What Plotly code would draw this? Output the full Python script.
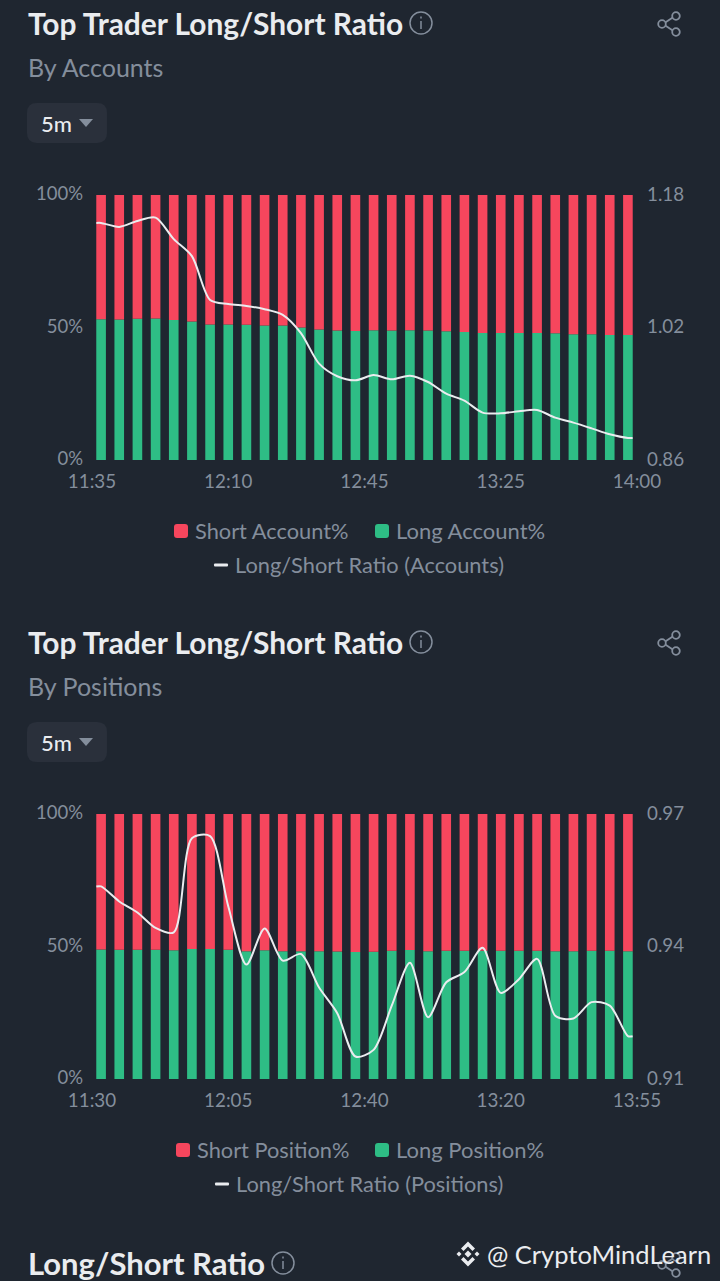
import plotly.graph_objects as go

# 11:35 ~ 14:00, 5m
times_acc = ["11:35","11:40","11:45","11:50","11:55","12:00","12:05","12:10","12:15","12:20",
             "12:25","12:30","12:35","12:40","12:45","12:50","12:55","13:00","13:05","13:10",
             "13:15","13:20","13:25","13:30","13:35","13:40","13:45","13:50","13:55","14:00"]
long_acc = [53.1,53.0,53.3,53.4,52.8,52.3,51.1,51.1,51.0,50.8,
            50.8,50.0,49.2,48.9,48.7,49.0,48.9,49.0,48.9,48.6,
            48.3,47.9,47.9,47.9,47.9,47.8,47.5,47.5,47.2,47.2]
short_acc = [46.9,47.0,46.7,46.6,47.2,47.7,48.9,48.9,49.0,49.2,
             49.2,50.0,50.8,51.1,51.3,51.0,51.1,51.0,51.1,51.4,
             51.7,52.1,52.1,52.1,52.1,52.2,52.5,52.5,52.8,52.8]
ratio_acc = [1.1463,1.1415,1.1487,1.1527,1.1267,1.1062,1.0533,1.0485,1.0461,1.0421,
             1.0352,1.0132,0.9763,0.9611,0.9562,0.9625,0.9574,0.9618,0.9542,0.9401,
             0.9316,0.9172,0.9164,0.9188,0.9204,0.9111,0.9051,0.8982,0.8910,0.8866]
ticks_acc = ["11:35","12:10","12:45","13:25","14:00"]

# 11:30 ~ 13:55, 5m
times_pos = ["11:30","11:35","11:40","11:45","11:50","11:55","12:00","12:05","12:10","12:15",
             "12:20","12:25","12:30","12:35","12:40","12:45","12:50","12:55","13:00","13:05",
             "13:10","13:15","13:20","13:25","13:30","13:35","13:40","13:45","13:50","13:55"]
long_pos = [48.9,48.75,48.75,48.75,48.6,49.1,49.1,48.75,48.2,48.6,
            48.2,48.2,48.2,48.1,47.9,48.0,48.4,48.7,48.2,48.4,
            48.4,48.4,48.4,48.4,48.4,48.2,48.2,48.4,48.4,48.2]
short_pos = [51.1,51.25,51.25,51.25,51.4,50.9,50.9,51.25,51.8,51.4,
             51.8,51.8,51.8,51.9,52.1,52.0,51.6,51.3,51.8,51.6,
             51.6,51.6,51.6,51.6,51.6,51.8,51.8,51.6,51.6,51.8]
ratio_pos = [0.9536,0.9502,0.9477,0.9442,0.9432,0.9645,0.9650,0.9491,0.9359,0.9441,
             0.9368,0.9383,0.9307,0.9249,0.9151,0.9166,0.9266,0.9363,0.9240,0.9319,
             0.9342,0.9397,0.9295,0.9326,0.9372,0.9243,0.9237,0.9274,0.9266,0.9197]
ticks_pos = ["11:30","12:05","12:40","13:20","13:55"]

pct_ticks = [0, 50, 100]
right_acc = [0.86, 1.02, 1.18]
right_pos = [0.91, 0.94, 0.97]

W, H = 720, 1281
BG = "#1F2630"
RED = "#F6465D"
GREEN = "#2EBD85"
GREY = "#848E9C"
WHITE = "#EAECEF"
FONT = "Lato"


def px(x):
    return x / W


def py(y):
    return 1 - y / H


def line_xy(vals):
    # 막대 중심을 지나고 양 끝만 막대 폭까지 늘린다
    last = len(vals) - 1
    xs = [-0.26] + list(range(len(vals))) + [last + 0.26]
    ys = [vals[0]] + list(vals) + [vals[-1]]
    return xs, ys


fig = go.Figure()
annotations = []
shapes = []


def text(x, y, s, size, color, anchor="left", weight=400):
    annotations.append(dict(x=px(x), y=py(y), xref="paper", yref="paper", text=s, showarrow=False,
                            xanchor=anchor, yanchor="middle", borderpad=0,
                            font=dict(family=FONT, size=size, color=color, weight=weight)))


def path_shape(d, fill=None, line=None, width=0):
    shapes.append(dict(type="path", path=d, xref="paper", yref="paper", fillcolor=fill,
                       line=dict(color=line, width=width) if line else dict(width=0)))


def P(x, y):
    return f"{px(x):.5f},{py(y):.5f}"


def rrect(x0, y0, x1, y1, r, fill):
    # 둥근 사각형
    d = (f"M {P(x0+r,y0)} L {P(x1-r,y0)} Q {P(x1,y0)} {P(x1,y0+r)} L {P(x1,y1-r)} Q {P(x1,y1)} {P(x1-r,y1)} "
         f"L {P(x0+r,y1)} Q {P(x0,y1)} {P(x0,y1-r)} L {P(x0,y0+r)} Q {P(x0,y0)} {P(x0+r,y0)} Z")
    path_shape(d, fill=fill)


def circle(cx, cy, r, color, width=2, fill=None):
    shapes.append(dict(type="circle", xref="paper", yref="paper", x0=px(cx-r), x1=px(cx+r), y0=py(cy+r), y1=py(cy-r),
                       line=dict(color=color, width=width), fillcolor=fill))


def info_icon(cx, cy):
    circle(cx, cy, 11, GREY, 1.5)
    path_shape(f"M {P(cx,cy-2)} L {P(cx,cy+6)}", line=GREY, width=1.5)
    path_shape(f"M {P(cx,cy-6.5)} L {P(cx,cy-4.5)}", line=GREY, width=1.5)


def share_icon(cx, cy):
    path_shape(f"M {P(cx+6,cy-8)} L {P(cx-6,cy)} L {P(cx+6,cy+8)}", line=GREY, width=1.8)
    circle(cx+7, cy-8, 3.8, GREY, 1.8, BG)
    circle(cx-7, cy, 3.8, GREY, 1.8, BG)
    circle(cx+7, cy+8, 3.8, GREY, 1.8, BG)


def section(n, top, title, sub, times, long_v, short_v, ratio, short_name, long_name, line_name, leg):
    xa, ya, ya2 = f"x{n*2-1 if n > 1 else ''}", f"y{n*2-1 if n > 1 else ''}", f"y{n*2}"
    idx = list(range(len(times)))
    fig.add_trace(go.Bar(x=idx, y=long_v, name=long_name, marker_color=GREEN, marker_line_width=0, width=0.53,
                         customdata=times, xaxis=xa, yaxis=ya))
    fig.add_trace(go.Bar(x=idx, y=short_v, name=short_name, marker_color=RED, marker_line_width=0, width=0.53,
                         base=long_v, customdata=times, xaxis=xa, yaxis=ya))
    lx, ly = line_xy(ratio)
    fig.add_trace(go.Scatter(x=lx, y=ly, mode="lines", name=line_name, xaxis=xa, yaxis=ya2,
                             line=dict(color=WHITE, width=2, shape="spline", smoothing=0.8)))

    # 위쪽 제목, 버튼
    text(27, top + 23, title, 29.9, "#EAECEF", weight=700)
    info_icon(421, top + 23)
    share_icon(669, top + 24)
    text(27, top + 67, sub, 25, GREY)
    rrect(27, top + 103, 107, top + 143, 10, "#2A303B")
    text(40, top + 123, "5m", 22, "#EAECEF", weight=500)
    path_shape(f"M {P(79,top+119)} L {P(93,top+119)} L {P(86,top+127)} Z", fill=GREY)

    # 범례
    rrect(leg[0], top + 524, leg[0] + 14, top + 538, 3, RED)
    text(leg[0] + 20, top + 530, short_name, 21.8, GREY)
    rrect(375, top + 524, 389, top + 538, 3, GREEN)
    text(395, top + 530, long_name, 22, GREY)
    rrect(leg[1], top + 563.5, leg[1] + 14, top + 566.5, 1, WHITE)
    text(leg[1] + 20, top + 564, line_name, 21.8, GREY)


section(1, 0, "Top Trader Long/Short Ratio", "By Accounts", times_acc, long_acc, short_acc, ratio_acc,
        "Short Account%", "Long Account%", "Long/Short Ratio (Accounts)", (174, 214))
section(2, 619, "Top Trader Long/Short Ratio", "By Positions", times_pos, long_pos, short_pos, ratio_pos,
        "Short Position%", "Long Position%", "Long/Short Ratio (Positions)", (176, 215))

# 아래 잘린 다음 차트 제목
text(27, 1263, "Long/Short Ratio", 31, "#EAECEF", weight=700)
info_icon(283, 1263)
share_icon(669, 1265)

# 워터마크
path_shape(f"M {P(468,1250.5)} L {P(471.5,1254)} L {P(468,1257.5)} L {P(464.5,1254)} Z", fill=WHITE)
path_shape(f"M {P(459,1251.5)} L {P(461.5,1254)} L {P(459,1256.5)} L {P(456.5,1254)} Z", fill=WHITE)
path_shape(f"M {P(477,1251.5)} L {P(479.5,1254)} L {P(477,1256.5)} L {P(474.5,1254)} Z", fill=WHITE)
path_shape(f"M {P(468,1241.5)} L {P(475,1248.5)} L {P(472.5,1251)} L {P(468,1246.5)} L {P(463.5,1251)} L {P(461,1248.5)} Z", fill=WHITE)
path_shape(f"M {P(468,1266.5)} L {P(475,1259.5)} L {P(472.5,1257)} L {P(468,1261.5)} L {P(463.5,1257)} L {P(461,1259.5)} Z", fill=WHITE)
text(486, 1254, "@ CryptoMindLearn", 25.5, "#EAECEF")

tick_pos = [-0.5, 7, 14.5, 22, 29.5]
xaxis_style = dict(range=[-0.5, 29.5], tickmode="array", tickvals=tick_pos, showgrid=False, zeroline=False, showline=False,
                   ticks="", ticklabelstandoff=8, tickfont=dict(family=FONT, size=18.8, color=GREY), fixedrange=True)
left_style = dict(range=[0, 100], tickmode="array", tickvals=pct_ticks, ticktext=[f"{v}%" for v in pct_ticks],
                  showgrid=False, zeroline=False, showline=False, ticks="", ticklabelstandoff=8, ticklabelshift=-1,
                  tickfont=dict(family=FONT, size=18.5, color=GREY), fixedrange=True)
right_style = dict(side="right", tickmode="array", showgrid=False, zeroline=False, showline=False, ticks="",
                   ticklabelstandoff=9, ticklabelshift=-1, tickfont=dict(family=FONT, size=18.8, color=GREY), fixedrange=True)

fig.update_layout(
    width=W, height=H, margin=dict(l=0, r=0, t=0, b=0, autoexpand=False), paper_bgcolor=BG, plot_bgcolor=BG,
    showlegend=False, barmode="overlay", annotations=annotations, shapes=shapes,
    xaxis=dict(domain=[px(92), px(637)], anchor="y", ticktext=ticks_acc, **xaxis_style),
    yaxis=dict(domain=[py(460), py(195)], anchor="x", **left_style),
    yaxis2=dict(domain=[py(460), py(195)], anchor="x", overlaying="y", range=[0.86, 1.18],
                tickvals=right_acc, ticktext=[f"{v:.2f}" for v in right_acc], **right_style),
    xaxis3=dict(domain=[px(92), px(637)], anchor="y3", ticktext=ticks_pos, **xaxis_style),
    yaxis3=dict(domain=[py(1079), py(814)], anchor="x3", **left_style),
    yaxis4=dict(domain=[py(1079), py(814)], anchor="x3", overlaying="y3", range=[0.91, 0.97],
                tickvals=right_pos, ticktext=[f"{v:.2f}" for v in right_pos], **right_style),
)

fig.write_html("out.html", config={"displayModeBar": False},
               post_script="document.body.style.margin='0';document.body.style.overflow='hidden';")
